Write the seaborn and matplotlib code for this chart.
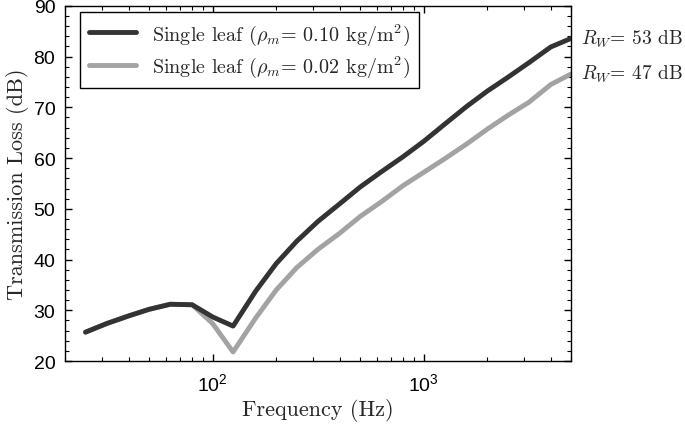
import numpy as np
import pandas as pd
import seaborn as sns
import matplotlib.pyplot as plt
from matplotlib.ticker import AutoMinorLocator, LogLocator, NullFormatter

# 1/3 octave band centre frequencies (Hz)
freq = [25, 31.5, 40, 50, 63, 80, 100, 125, 160, 200, 250, 315, 400, 500,
        630, 800, 1000, 1250, 1600, 2000, 2500, 3150, 4000, 5000]
# transmission loss (dB)
tl_heavy = [25.7, 27.4, 28.9, 30.2, 31.2, 31.1, 28.7, 26.9, 33.8, 39.2, 43.6, 47.5,
            51.0, 54.3, 57.3, 60.3, 63.3, 66.6, 70.2, 73.2, 75.9, 78.8, 81.9, 83.6]
tl_light = [25.7, 27.4, 28.9, 30.2, 31.2, 31.1, 27.4, 21.8, 28.5, 34.0, 38.4, 42.0,
            45.2, 48.5, 51.4, 54.6, 57.2, 59.8, 62.8, 65.7, 68.4, 71.0, 74.5, 76.6]

labels = [r'Single leaf ($\rho_m$= 0.10 kg/m$^2$)',
          r'Single leaf ($\rho_m$= 0.02 kg/m$^2$)']
rw_labels = [r'$R_W$= 53 dB', r'$R_W$= 47 dB']

df = pd.DataFrame({'freq': freq * 2,
                   'tl': tl_heavy + tl_light,
                   'panel': [labels[0]] * len(freq) + [labels[1]] * len(freq)})

sns.set_style('ticks')
plt.rcParams['font.family'] = ['Liberation Sans', 'DejaVu Sans']
plt.rcParams['mathtext.fontset'] = 'cm'
serif = 'cmr10'

fig, ax = plt.subplots(figsize=(6.85, 4.27), dpi=100)
plt.subplots_adjust(left=0.095, right=0.834, bottom=0.152, top=0.984)

sns.lineplot(data=df, x='freq', y='tl', hue='panel', hue_order=labels,
             palette=['#333333', '#a3a3a3'], linewidth=3.5, ax=ax)

# keep the dark curve on top
ax.lines[0].set_zorder(3)

ax.set_xscale('log')
ax.set_xlim(20, 5000)
ax.set_ylim(20, 90)
ax.yaxis.set_minor_locator(AutoMinorLocator(5))
ax.xaxis.set_minor_locator(LogLocator(base=10, subs=np.arange(2, 10)))
ax.xaxis.set_minor_formatter(NullFormatter())
ax.tick_params(which='both', direction='in', top=True, right=True, labelsize=14,
               colors='black')
ax.tick_params(which='major', length=5, width=1)
ax.tick_params(which='minor', length=3, width=0.8)
ax.tick_params(axis='x', which='major', pad=8)
ax.tick_params(axis='y', which='major', pad=7)
for s in ax.spines.values():
  s.set_color('black')
  s.set_linewidth(1)

ax.set_xlabel('Frequency (Hz)', fontsize=16, fontfamily=serif, labelpad=3)
ax.set_ylabel('Transmission Loss (dB)', fontsize=16, fontfamily=serif, labelpad=3)

leg = ax.legend(loc='upper left', bbox_to_anchor=(0.03, 0.983), borderaxespad=0,
                frameon=True, fancybox=False, edgecolor='black', framealpha=1,
                handlelength=2.3, handletextpad=0.8, borderpad=0.45,
                labelspacing=0.35, prop={'family': serif, 'size': 14.5})
leg.get_frame().set_linewidth(1)
leg.set_title(None)

# R_W annotations at the right end of each curve
ax.text(1.02, 83.6, rw_labels[0], transform=ax.get_yaxis_transform(),
        fontsize=14, fontfamily=serif, va='center', ha='left')
ax.text(1.02, 76.6, rw_labels[1], transform=ax.get_yaxis_transform(),
        fontsize=14, fontfamily=serif, va='center', ha='left')

fig.savefig('out.png', dpi=100)
